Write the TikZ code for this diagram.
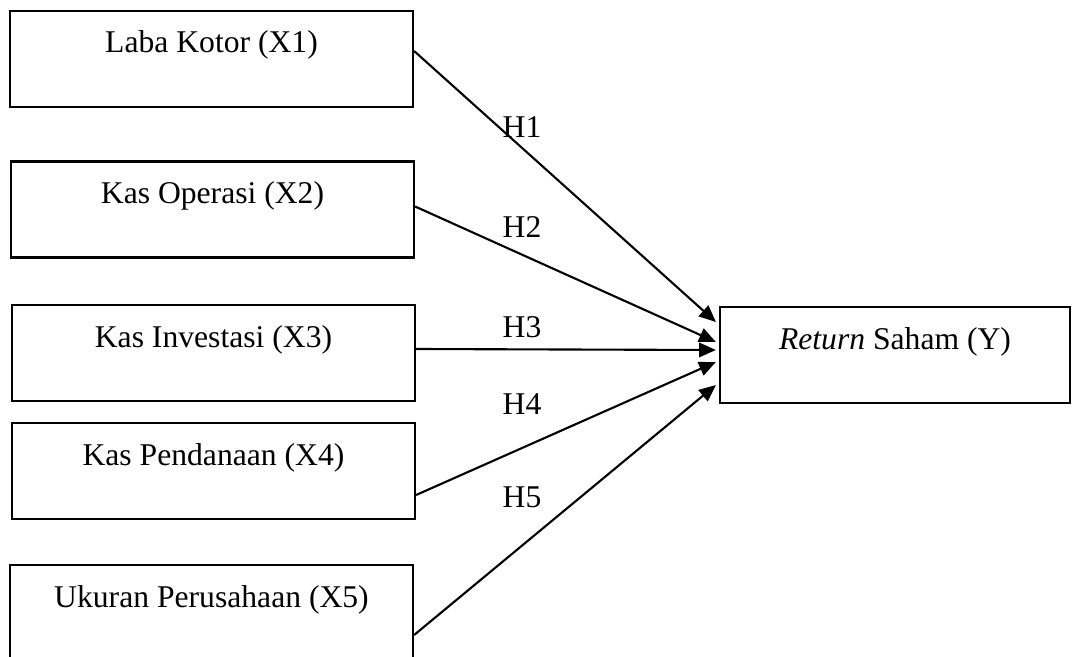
\documentclass[tikz,border=0pt]{standalone}
\usepackage{fontspec}
\setmainfont{Liberation Serif}
\usepackage{tikz}
\usetikzlibrary{arrows.meta,calc}
\tikzset{
  varbox/.style={draw=black,line width=1.5pt,minimum width=10.075cm,minimum height=2.4cm,inner sep=0pt,text height=0.6cm,text depth=0.9cm,font=\fontsize{22.5}{26}\selectfont},
  hyp/.style={font=\fontsize{22.5}{26}\selectfont,inner sep=0pt},
  arr/.style={-{Triangle[length=0.42cm,width=0.36cm]},draw=black,line width=1.5pt}
}

\begin{document}
\begin{tikzpicture}[x=0.025cm,y=-0.025cm]
  \useasboundingbox (0,0) rectangle (1073,657);
  \node[varbox] (x1) at (211.5,59) {Laba Kotor (X1)};
  \node[varbox] (x2) at (212.5,209.5) {Kas Operasi (X2)};
  \node[varbox] (x3) at (213.5,353) {Kas Investasi (X3)};
  \node[varbox] (x4) at (213.5,471) {Kas Pendanaan (X4)};
  \node[varbox] (x5) at (211.5,613) {Ukuran Perusahaan (X5)};
  \node[varbox,minimum width=8.75cm] (y) at (895,355) {\textit{Return} Saham (Y)};

  \draw[arr] ($(x1.east)+(0,-8)$) -- ($(y.west)+(-3,-33)$);
  \draw[arr] ($(x2.east)+(0,-3)$) -- ($(y.west)+(-3,-13)$);
  \draw[arr] ($(x3.east)+(0,-4)$) -- ($(y.west)+(-3,-5)$);
  \draw[arr] ($(x4.east)+(0,24)$) -- ($(y.west)+(-3,7)$);
  \draw[arr] ($(x5.east)+(0,22)$) -- ($(y.west)+(-3,30)$);

  \node[hyp] (h1) at (522,127) {H1};
  \node[hyp] (h2) at (522,227) {H2};
  \node[hyp] (h3) at (522,327) {H3};
  \node[hyp] (h4) at (522,404) {H4};
  \node[hyp] (h5) at (522,497) {H5};
\end{tikzpicture}
\end{document}
